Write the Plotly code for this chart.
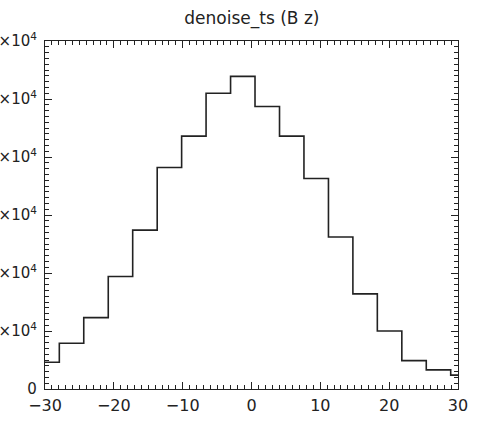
import plotly.graph_objects as go

# Histogram of denoise_ts (B z): bin left edges and counts (units of 1e4)
bin_left_edges = [-30.0, -27.92, -24.37, -20.81, -17.26, -13.70, -10.15, -6.60, -3.04,
                  0.51, 4.07, 7.62, 11.18, 14.73, 18.28, 21.84, 25.39, 28.94]
counts_1e4 = [0.46, 0.79, 1.23, 1.94, 2.74, 3.82, 4.36, 5.10, 5.39,
              4.87, 4.36, 3.63, 2.62, 1.64, 1.00, 0.49, 0.33, 0.24]
x_end = 30.0

y_tickvals = [0, 1, 2, 3, 4, 5, 6]
y_ticktext = ["0"] + [f"{v}×10<sup>4</sup>" for v in y_tickvals[1:]]
x_tickvals = [-30, -20, -10, 0, 10, 20, 30]
x_ticktext = ["−30", "−20", "−10", "0", "10", "20", "30"]

xs = bin_left_edges + [x_end]
ys = counts_1e4 + [counts_1e4[-1]]

fig = go.Figure()
fig.add_trace(go.Scatter(x=xs, y=ys, mode="lines", line_shape="hv",
                         line=dict(color="#222222", width=1.6),
                         showlegend=False, hoverinfo="skip"))

fam = "DejaVu Sans, sans-serif"
font = dict(family=fam, size=15, color="#222222")

fig.update_layout(
    width=478, height=422,
    margin=dict(l=45, r=20, t=41, b=33),
    paper_bgcolor="white", plot_bgcolor="white",
    font=font,
    title=dict(text="denoise_ts (B z)", x=0.527, xanchor="center", y=0.957, yanchor="middle",
               font=dict(family=fam, size=17, color="#222222")),
    xaxis=dict(range=[-30, 30], tickvals=x_tickvals, ticktext=x_ticktext,
               automargin=False,
               ticks="inside", ticklen=7, tickwidth=1, tickcolor="#222222",
               showline=True, linecolor="#222222", linewidth=1.2, mirror="allticks",
               showgrid=False, zeroline=False, ticklabelstandoff=2,
               tickfont=dict(family=fam, size=16, color="#222222"),
               minor=dict(dtick=1, ticks="inside", ticklen=3.5, tickcolor="#222222", tickwidth=1, showgrid=False)),
    yaxis=dict(range=[0, 6], tickvals=y_tickvals, ticktext=y_ticktext,
               automargin=False,
               ticks="inside", ticklen=7, tickwidth=1, tickcolor="#222222",
               showline=True, linecolor="#222222", linewidth=1.2, mirror="allticks",
               showgrid=False, zeroline=False, ticklabelstandoff=4,
               tickfont=dict(family=fam, size=15, color="#222222"),
               minor=dict(dtick=0.1, ticks="inside", ticklen=3.5, tickcolor="#222222", tickwidth=1, showgrid=False)),
)

fig.write_html("out.html")
